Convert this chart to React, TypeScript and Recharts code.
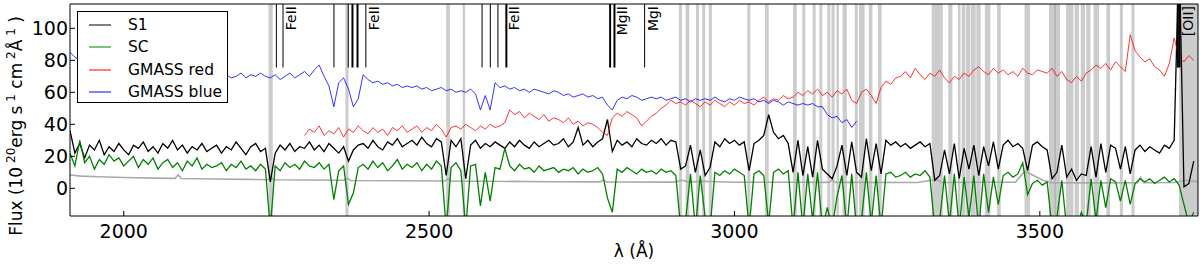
import React from 'react';
import { LineChart, Line, XAxis, YAxis, ReferenceArea, ReferenceLine, ReferenceDot } from 'recharts';

// wavelength grid of the stacked spectra (Angstrom)
const lamStart = 1912;
const lamStep = 8;

const s1Flux = [
  36, 22, 28, 19, 27, 24, 30, 21, 26, 23,
  28, 24, 21, 27, 25, 29, 23, 26, 22, 28,
  25, 30, 24, 27, 22, 26, 24, 28, 23, 25,
  27, 22, 26, 24, 29, 25, 21, 26, 28, 23,
  25, 4, 22, 27, 24, 28, 23, 26, 25, 29,
  24, 27, 23, 28, 25, 22, 26, 17, 24, 27,
  28, 25, 30, 26, 24, 29, 27, 31, 26, 28,
  30, 27, 32, 28, 26, 31, 29, 8, 30, 26,
  31, 6, 27, 30, 25, 28, 26, 29, 27, 25,
  29, 26, 30, 27, 25, 29, 26, 28, 30, 27,
  28, 31, 26, 29, 38, 27, 30, 26, 29, 31,
  43, 23, 30, 27, 29, 26, 31, 28, 27, 30,
  28, 31, 27, 30, 29, 12, 14, 27, 10, 24,
  8, 13, 29, 26, 31, 28, 30, 27, 29, 11,
  28, 30, 33, 46, 35, 31, 33, 28, 10, 30,
  8, 26, 7, 30, 12, 9, 6, 14, 27, 8,
  29, 10, 7, 31, 11, 28, 9, 30, 27, 29,
  26, 28, 25, 27, 29, 26, 28, 5, 8, 24,
  9, 28, 6, 25, 12, 27, 8, 26, 14, 29,
  12, 27, 30, 26, 28, 25, 11, 27, 29, 26,
  24, 6, 10, 27, 7, 12, 5, 9, 8, 26,
  7, 28, 10, 27, 25, 12, 26, 9, 24, 27,
  23, 26, 24, 22, 27, 25, 30, 150, 1, 3,
  17,
];

const scFlux = [
  22, 14, 30, 16, 20, 12, 18, 15, 21, 17,
  19, 14, 17, 20, 13, 18, 15, 19, 12, 16,
  18, 13, 16, 11, 17, 14, 19, 12, 15, 13,
  14, 16, 11, 15, 13, 17, 12, 14, 11, 15,
  12, -25, 14, 11, 16, 13, 15, 12, 17, 14,
  13, 16, 12, 15, -7, 11, 14, -10, -3, 13,
  15, 12, 17, 13, 16, 11, 14, 18, 12, 15,
  13, 16, 11, 15, 12, 17, 14, -25, 13, 16,
  11, -25, 14, 15, -11, 10, -8, 13, 12, 25,
  14, 11, 15, 12, 13, 10, 14, 11, 12, 13,
  10, 12, 11, 13, 9, 12, 10, 11, 13, 9,
  -6, -15, 12, 10, 13, 11, 9, 12, 10, 11,
  9, 12, 10, 11, 8, -25, -20, 9, -25, 8,
  -18, -25, 10, 8, 11, 9, 12, 10, 8, -25,
  9, 11, 8, -22, 10, 12, 9, 11, -25, 10,
  -25, 9, -20, 10, -25, -12, -25, -5, 8, -25,
  9, -25, -20, 10, -22, 8, -25, 9, 10, 7,
  8, 10, 7, 9, 8, 11, 7, -25, -20, 8,
  -22, 9, -25, 7, -18, 8, -25, 9, -15, 7,
  -10, 8, 10, 7, 9, 16, -4, 3, 5, 2,
  4, -25, -18, 5, -25, -20, -25, -15, -22, 6,
  -20, 5, -12, 6, 4, -8, 5, -10, 3, 6,
  4, 6, 3, 5, 7, 4, 6, 2, -10, -22,
  -15,
];

// GMASS red starts at 2296 A
const redStart = 2296;
const redFlux = [
  33, 37,
  35, 39, 33, 36, 34, 38, 32, 37, 35, 39,
  36, 34, 38, 35, 37, 33, 38, 36, 39, 35,
  37, 39, 35, 38, 36, 40, 37, 32, 38, 39,
  37, 40, 38, 36, 39, 37, 40, 38, 39, 41,
  49, 46, 48, 44, 47, 45, 43, 46, 42, 44,
  43, 41, 44, 40, 42, 39, 41, 40, 38, 35,
  33, 44, 47, 45, 48, 46, 44, 39, 42, 45,
  47, 50, 52, 55, 53, 54, 52, 55, 53, 51,
  54, 52, 55, 53, 51, 54, 52, 55, 53, 54,
  52, 55, 57, 54, 56, 55, 58, 56, 57, 60,
  58, 61, 59, 62, 58, 60, 57, 61, 59, 62,
  55, 53, 60, 62, 58, 53, 63, 67, 65, 69,
  70, 73, 69, 75, 71, 68, 72, 70, 74, 69,
  66, 70, 68, 72, 70, 74, 76, 73, 71, 75,
  72, 74, 71, 73, 70, 75, 72, 71, 74, 73,
  72, 75, 70, 73, 68, 66, 70, 67, 72, 74,
  77, 75, 78, 74, 79, 76, 73, 96, 86, 82,
  79, 81, 76, 74, 70, 78, 94, 82, 79, 83,
  80,
];

// GMASS blue runs from 1912 to 3200 A
const blueFlux = [
  85, 82, 80, 78, 76, 74, 73, 72, 71, 70,
  71, 69, 70, 68, 69, 67, 70, 68, 69, 67,
  68, 70, 67, 69, 68, 70, 67, 69, 71, 68,
  70, 68, 71, 69, 70, 72, 69, 71, 70, 72,
  70, 69, 71, 68, 70, 72, 69, 71, 73, 70,
  74, 77, 70, 64, 51, 66, 69, 62, 51, 56,
  71, 68, 66, 67, 65, 66, 64, 65, 63, 64,
  63, 64, 62, 63, 61, 62, 63, 61, 62, 60,
  61, 60, 62, 59, 49, 58, 49, 66, 63, 64,
  62, 63, 61, 62, 60, 62, 61, 60, 59, 61,
  60, 58, 59, 57, 58, 59, 57, 58, 56, 57,
  52, 49, 55, 57, 56, 58, 57, 55, 56, 57,
  56, 57, 55, 56, 57, 55, 56, 54, 56, 55,
  56, 55, 57, 55, 54, 56, 55, 57, 56, 55,
  56, 54, 55, 53, 55, 54, 52, 54, 53, 52,
  53, 52, 53, 51, 51, 46, 44, 45, 41, 43,
  38, 42,
];

// noise spectrum
const errWave = [
  1912, 1930, 1960, 2000, 2050, 2084, 2089, 2094, 2150, 2200,
  2236, 2241, 2246, 2300, 2360, 2366, 2372, 2450, 2526, 2531,
  2536, 2600, 2700, 2760, 2780, 2785, 2790, 2900, 2915, 2925,
  2950, 3000, 3100, 3155, 3160, 3165, 3200, 3300, 3330, 3340,
  3400, 3460, 3475, 3490, 3505, 3520, 3600, 3660, 3665, 3670,
  3720, 3740, 3759,
];
const errFlux = [
  8.3, 7.6, 7.2, 6.8, 6.4, 6.2, 8.5, 6.1, 5.8, 5.6,
  5.4, 6.8, 5.4, 5.2, 5.0, 6.2, 4.9, 4.7, 4.6, 5.8,
  4.5, 4.4, 4.1, 4.0, 4.0, 5.2, 4.0, 3.9, 5.0, 3.9,
  4.4, 3.8, 3.8, 3.7, 5.0, 3.7, 3.7, 3.6, 5.5, 3.6,
  3.8, 3.8, 10.5, 8.0, 5.0, 3.5, 3.4, 3.5, 7.0, 3.5,
  3.6, 5.0, 4.0,
];

// masked sky-line regions
const skyBands = [
  [2237, 2244], [2363, 2368], [2528, 2534], [2555, 2559], [2909, 2914],
  [2920, 2926], [2937, 2942], [2947, 2952], [2958, 2963], [3021, 3026],
  [3050, 3056], [3096, 3102], [3111, 3116], [3128, 3133], [3139, 3144],
  [3152, 3157], [3159, 3164], [3167, 3171], [3177, 3184], [3197, 3202],
  [3204, 3213], [3220, 3226], [3235, 3241], [3323, 3341], [3350, 3357],
  [3366, 3370], [3372, 3378], [3379, 3386], [3387, 3395], [3396, 3403],
  [3410, 3419], [3430, 3436], [3475, 3484], [3515, 3526], [3524, 3533],
  [3543, 3555], [3557, 3564], [3567, 3574], [3576, 3583], [3588, 3597],
  [3609, 3615], [3631, 3636], [3650, 3655], [3728, 3759],
];

const absLines = [
  2249.9, 2260.8, 2344.2, 2367.6, 2374.5, 2382.8, 2396.4, 2586.7, 2600.2, 2612.7,
  2626.5, 2796.4, 2803.5, 2852.9, 3726.0, 3728.8,
];
const strongLines = [2374.5, 2382.8, 2626.5, 2796.4, 2803.5, 3726.0, 3728.8];
const labelNames = ['FeII', 'FeII', 'FeII', 'MgII', 'MgI', '[OII]'];
const labelWaves = [2260.8, 2396.4, 2626.5, 2803.5, 2852.9, 3728.8];

const xTicks = [2000, 2500, 3000, 3500];
const yTicks = [0, 20, 40, 60, 80, 100];
const seriesNames = ['S1', 'SC', 'GMASS red', 'GMASS blue'];

const X_MIN = 1912;
const X_MAX = 3759;
const Y_MIN = -17.3;
const Y_MAX = 115.2;
const MARK_BOTTOM = 75.5;
const FONT = 'DejaVu Sans, sans-serif';

const colors: Record<string, string> = {
  S1: '#000000',
  SC: '#008000',
  'GMASS red': '#ff0000',
  'GMASS blue': '#0000ff',
};

const redOffset = (redStart - lamStart) / lamStep;
const rows = s1Flux.map((v, i) => ({
  x: lamStart + i * lamStep,
  s1: v,
  sc: scFlux[i],
  red: i >= redOffset ? redFlux[i - redOffset] : null,
  blue: i < blueFlux.length ? blueFlux[i] : null,
}));
const errRows = errWave.map((w, i) => ({ x: w, err: errFlux[i] }));

const XTick = ({ x, y, payload }: any) => (
  <g>
    <line x1={x} y1={y} x2={x} y2={y - 5} stroke="#000" strokeWidth={1} />
    <text x={x} y={y + 15} textAnchor="middle" dominantBaseline="central" fontSize={19} fontFamily={FONT} fill="#000">
      {payload.value}
    </text>
  </g>
);

const YTick = ({ x, y, payload }: any) => (
  <g>
    <line x1={x} y1={y} x2={x + 5} y2={y} stroke="#000" strokeWidth={1} />
    <text x={x - 2} y={y} textAnchor="end" dominantBaseline="central" fontSize={19} fontFamily={FONT} fill="#000">
      {payload.value}
    </text>
  </g>
);

const sup = (s: string) => (
  <tspan fontSize={12} dy={-7}>{s}</tspan>
);
const base = (s: string) => <tspan fontSize={17} dy={7}>{s}</tspan>;

const YLabel = () => (
  <text x={22} y={126} transform="rotate(-90, 22, 126)" textAnchor="middle" fontSize={17} fontFamily={FONT} fill="#000">
    <tspan>Flux (10</tspan>
    {sup('  20')}
    {base('erg s')}
    {sup('  1')}
    {base(' cm')}
    {sup('  2')}
    {base('Å')}
    {sup('  1')}
    {base(' )')}
  </text>
);

const XLabel = () => (
  <text x={634} y={257} textAnchor="middle" fontSize={17} fontFamily={FONT} fill="#000">
    λ (Å)
  </text>
);

const LineLabel = (props: any) => {
  const { cx, cy, name } = props;
  const tx = cx + 13;
  const ty = cy + 2;
  return (
    <text x={tx} y={ty} transform={`rotate(-90, ${tx}, ${ty})`} textAnchor="end" fontSize={14} fontFamily={FONT} fill="#000">
      {name}
    </text>
  );
};

const LegendBox = () => (
  <div
    style={{
      position: 'absolute',
      left: 77,
      top: 11,
      border: '1px solid #000',
      background: '#fff',
      width: 149,
      height: 90,
      fontFamily: FONT,
      fontSize: 15.5,
    }}
  >
    {seriesNames.map((n, i) => (
      <div key={n} style={{ position: 'absolute', left: 0, top: 2 + i * 22.3, height: 22, display: 'flex', alignItems: 'center' }}>
        <svg width={50} height={22}>
          <line x1={11} y1={11} x2={33} y2={11} stroke={colors[n]} strokeWidth={1} />
        </svg>
        <span style={{ whiteSpace: 'nowrap', color: '#000' }}>{n}</span>
      </div>
    ))}
  </div>
);

export default function App() {
  return (
    <div style={{ width: 1200, height: 264, position: 'relative', fontFamily: FONT }}>
      <style>{'body{margin:0}'}</style>
      <LineChart width={1200} height={264} data={rows} margin={{ top: 4, right: 2, left: 0, bottom: 0 }}>
        <XAxis
          type="number"
          dataKey="x"
          domain={[X_MIN, X_MAX]}
          ticks={xTicks}
          allowDataOverflow
          height={48}
          tickSize={0}
          tickMargin={0}
          tickLine={false}
          tick={<XTick />}
          axisLine={{ stroke: '#000' }}
          label={<XLabel />}
        />
        <YAxis
          type="number"
          domain={[Y_MIN, Y_MAX]}
          ticks={yTicks}
          allowDataOverflow
          width={70}
          tickSize={0}
          tickMargin={0}
          tickLine={false}
          tick={<YTick />}
          axisLine={{ stroke: '#000' }}
          label={<YLabel />}
        />
        {skyBands.map(([a, b], i) => (
          <ReferenceArea key={`band-${i}`} x1={a} x2={b} fill="#808080" fillOpacity={0.4} stroke="none" zIndex={-1} />
        ))}
        <Line data={errRows} dataKey="err" stroke="#aaaaaa" strokeWidth={1.6} dot={false} activeDot={false} isAnimationActive={false} />
        <Line dataKey="s1" stroke={colors.S1} strokeWidth={1.3} dot={false} activeDot={false} isAnimationActive={false} />
        <Line dataKey="sc" stroke={colors.SC} strokeWidth={1.3} dot={false} activeDot={false} isAnimationActive={false} />
        <Line dataKey="red" stroke={colors['GMASS red']} strokeWidth={0.8} dot={false} activeDot={false} isAnimationActive={false} />
        <Line dataKey="blue" stroke={colors['GMASS blue']} strokeWidth={0.8} dot={false} activeDot={false} isAnimationActive={false} />
        {absLines.map((w) => (
          <ReferenceLine
            key={`line-${w}`}
            segment={[{ x: w, y: MARK_BOTTOM }, { x: w, y: Y_MAX }]}
            stroke="#000"
            strokeWidth={strongLines.includes(w) ? 2 : 1}
          />
        ))}
        {labelWaves.map((w, i) => (
          <ReferenceDot key={`lab-${i}`} x={w} y={Y_MAX} r={0} shape={(p: any) => <LineLabel {...p} name={labelNames[i]} />} />
        ))}
        <ReferenceLine y={Y_MAX} stroke="#000" />
        <ReferenceLine x={X_MAX} stroke="#000" />
      </LineChart>
      <LegendBox />
    </div>
  );
}
